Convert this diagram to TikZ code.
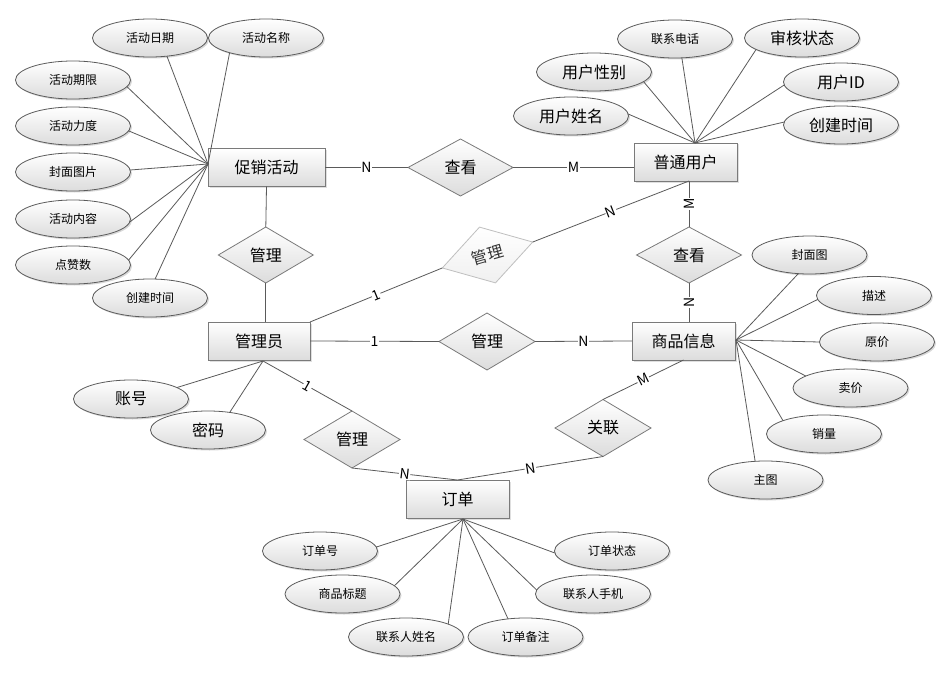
\documentclass[tikz,border=0pt]{standalone}
\usepackage{fontspec}
\setmainfont{Noto Sans CJK SC}
\usetikzlibrary{shapes.geometric,shadows}
\definecolor{linec}{HTML}{5A5A5A}
\definecolor{bordc}{HTML}{7A7A7A}
\definecolor{shadec}{HTML}{DCDCDC}
\tikzset{
  ent/.style={rectangle, draw=bordc, line width=0.9pt, top color=white, bottom color=shadec,
    minimum width=103pt, minimum height=38pt, inner sep=0pt, outer sep=0pt,
    font=\fontsize{16}{18}\selectfont,
    drop shadow={opacity=0.25, shadow xshift=1.5pt, shadow yshift=-1.5pt}},
  rel/.style={diamond, draw=bordc, line width=0.8pt, top color=white, bottom color=shadec,
    minimum width=96pt, minimum height=57pt, inner sep=0pt, outer sep=0pt,
    font=\fontsize{16}{18}\selectfont},
  attr/.style={ellipse, draw=linec, line width=0.8pt, top color=white, bottom color=shadec,
    minimum width=115pt, minimum height=38pt, inner sep=0pt, outer sep=0pt,
    font=\fontsize{12}{14}\selectfont,
    drop shadow={opacity=0.3, shadow xshift=1.5pt, shadow yshift=-1.5pt}},
  attrL/.style={attr, font=\fontsize{16}{18}\selectfont},
  link/.style={draw=linec, line width=0.8pt},
  lab/.style={fill=white, inner sep=0.6pt, font=\fontsize{14}{15}\selectfont},
}
\begin{document}
\begin{tikzpicture}[x=1pt,y=-1pt]
\useasboundingbox (0,0) rectangle (948,674);
\fill[white] (0,0) rectangle (948,674);

% entities
\node[ent, minimum width=117pt] (pa) at (266.5,167.5) {促销活动};
\node[ent] (pu) at (685.5,162) {普通用户};
\node[ent, minimum width=102pt] (ad) at (259,341) {管理员};
\node[ent] (gi) at (683.5,341) {商品信息};
\node[ent] (od) at (457.5,499) {订单};

% relations
\node[rel, minimum width=105pt] (ck1) at (460.5,167.5) {查看};
\node[rel, minimum width=95pt, minimum height=56pt] (gl1) at (265.8,255) {管理};
\node[rel, draw=gray!50, top color=white, bottom color=gray!12, text=black!80,
      minimum width=94pt, minimum height=58pt, rotate=16] (gm) at (487.5,255) {管理};
\node[rel] (gl2) at (487,341.5) {管理};
\node[rel, minimum width=105pt, minimum height=56pt] (ck2) at (689,255) {查看};
\node[rel] (gb) at (352,439.5) {管理};
\node[rel] (gy) at (603,428) {关联};

% convergence points
\coordinate (paw) at (208,164);
\coordinate (pun) at (695,143);
\coordinate (gie) at (736,340);
\coordinate (ods) at (463,519);
\coordinate (adb) at (263,361);

% relation links
\draw[link] (pa.east) -- (ck1.west) node[lab, midway] {N};
\draw[link] (ck1.east) -- (ck1.east -| pu.west) node[lab, midway] {M};
\draw[link] (pa.south) -- (gl1.north);
\draw[link] (gl1.south) -- (gl1.south |- ad.north);
\draw[link] (ad.north east) -- (gm.west) node[lab, midway, sloped] {1};
\draw[link] (gm.east) -- (ck2.north |- pu.south) node[lab, midway, sloped] {N};
\draw[link] (ad.east) -- (gl2.west) node[lab, midway] {1};
\draw[link] (gl2.east) -- (gi.west) node[lab, midway] {N};
\draw[link] (ck2.north |- pu.south) -- (ck2.north) node[lab, midway, rotate=90] {M};
\draw[link] (ck2.south) -- (ck2.south |- gi.north) node[lab, midway, rotate=90] {N};
\draw[link] (gi.south) -- (gy.north) node[lab, midway, sloped] {M};
\draw[link] (gy.south) -- (od.north) node[lab, midway, sloped] {N};
\draw[link] (adb) -- (gb.north) node[lab, midway, sloped] {1};
\draw[link] (gb.south) -- (od.north) node[lab, midway, sloped] {N};

% attributes of 促销活动
\node[attr] (a1) at (150,38) {活动日期};
\node[attr] (a2) at (266,38) {活动名称};
\node[attr] (a3) at (73,80) {活动期限};
\node[attr] (a4) at (73,126) {活动力度};
\node[attr] (a5) at (73,172) {封面图片};
\node[attr] (a6) at (73,219) {活动内容};
\node[attr] (a7) at (73,265) {点赞数};
\node[attr] (a8) at (150,298) {创建时间};
\draw[link] (a1.313) -- (paw);
\draw[link] (a2.202) -- (paw);
\draw[link] (a3.353) -- (paw);
\draw[link] (a4.355) -- (paw);
\draw[link] (a5.2) -- (paw);
\draw[link] (a6.357) -- (paw);
\draw[link] (a7.5) -- (paw);
\draw[link] (a8.75) -- (paw);

% attributes of 普通用户
\node[attrL] (u1) at (571,116) {用户姓名};
\node[attrL] (u2) at (594,72) {用户性别};
\node[attr] (u3) at (675,39) {联系电话};
\node[attrL] (u4) at (802,38) {审核状态};
\node[attrL] (u5) at (841,82) {用户ID};
\node[attrL] (u6) at (841,125) {创建时间};
\draw[link] (u1.2) -- (pun);
\draw[link] (u2.349) -- (pun);
\draw[link] (u3.290) -- (pun);
\draw[link] (u4.194) -- (pun);
\draw[link] (u5.183) -- (pun);
\draw[link] (u6.177) -- (pun);

% attributes of 商品信息
\node[attr] (g1) at (809.5,255) {封面图};
\node[attr] (g2) at (874,295.5) {描述};
\node[attr] (g3) at (877,342) {原价};
\node[attr] (g4) at (850.5,388) {卖价};
\node[attr] (g5) at (824,434) {销量};
\node[attr] (g6) at (765.5,480) {主图};
\draw[link] (g1.239) -- (gie);
\draw[link] (g2.184) -- (gie);
\draw[link] (g3.180) -- (gie);
\draw[link] (g4.165) -- (gie);
\draw[link] (g5.162) -- (gie);
\draw[link] (g6.119) -- (gie);

% attributes of 管理员
\node[attrL] (m1) at (131,399) {账号};
\node[attrL] (m2) at (208,430) {密码};
\draw[link] (m1.14) -- (adb);
\draw[link] (m2.39) -- (adb);

% attributes of 订单
\node[attr] (o1) at (320,551) {订单号};
\node[attr] (o2) at (342.5,594) {商品标题};
\node[attr] (o3) at (406,637) {联系人姓名};
\node[attr] (o4) at (525.5,637) {订单备注};
\node[attr] (o5) at (593,594) {联系人手机};
\node[attr] (o6) at (612,551) {订单状态};
\draw[link] (o1.4) -- (ods);
\draw[link] (o2.9) -- (ods);
\draw[link] (o3.17) -- (ods);
\draw[link] (o4.134) -- (ods);
\draw[link] (o5.176) -- (ods);
\draw[link] (o6.182) -- (ods);
\end{tikzpicture}
\end{document}
